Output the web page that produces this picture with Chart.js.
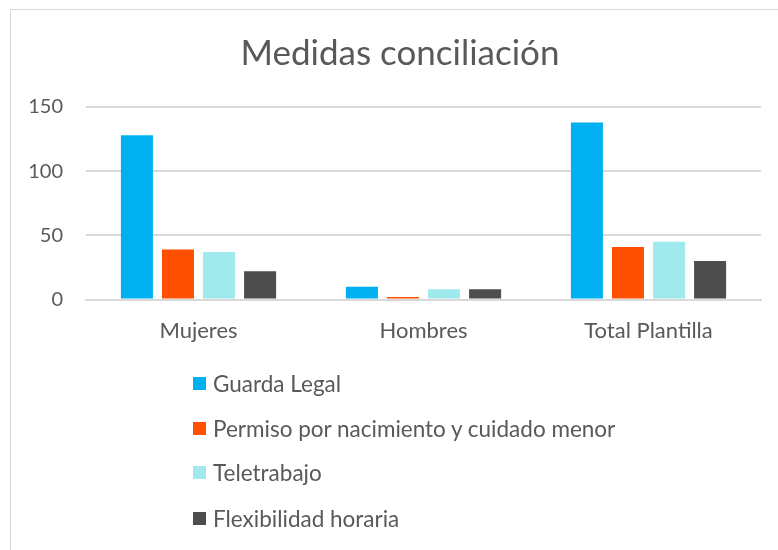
<!DOCTYPE html>
<html>
<head>
<meta charset="utf-8">
<script src="https://cdn.jsdelivr.net/npm/chart.js@4/dist/chart.umd.min.js"></script>
<style>
  html, body { margin: 0; padding: 0; background: #fff; }
  #wrap { position: relative; width: 778px; height: 550px; overflow: hidden; }
  #frame { position: absolute; left: 10px; top: 9px; width: 800px; height: 600px; border: 1px solid #d9d9d9; box-sizing: border-box; }
  canvas { position: absolute; left: 0; top: 0; }
  #legend { position: absolute; left: 193px; top: 0; font-family: Lato, sans-serif; font-size: 22.5px; color: #595959; }
  .item { position: absolute; left: 0; white-space: nowrap; display: flex; align-items: center; height: 26px; }
  .box { width: 13px; height: 13px; margin-right: 7px; }
</style>
</head>
<body>
<div id="wrap">
  <div id="frame"></div>
  <canvas id="c" width="778" height="550"></canvas>
  <div id="legend"></div>
</div>
<script>
const categories = ["Mujeres", "Hombres", "Total Plantilla"];
const seriesNames = ["Guarda Legal", "Permiso por nacimiento y cuidado menor", "Teletrabajo", "Flexibilidad horaria"];
const guardaLegal = [128, 10, 138];
const permisoNacimiento = [39, 2, 41];
const teletrabajo = [37, 8, 45];
const flexibilidadHoraria = [22, 8, 30];
const yTicks = [0, 50, 100, 150];
const colors = ["#00B0F0", "#FF4F00", "#A0EAEE", "#4D4D4D"];

const seriesValues = [guardaLegal, permisoNacimiento, teletrabajo, flexibilidadHoraria];
const textColor = "#595959";
const fontFamily = "Lato, sans-serif";

const titleShift = {
  id: "titleShift",
  afterLayout(chart) {
    if (chart.titleBlock) { chart.titleBlock.left = 39; }
  }
};

const chart = new Chart(document.getElementById("c"), {
  type: "bar",
  data: {
    labels: categories,
    datasets: seriesNames.map((n, i) => ({
      label: n,
      data: seriesValues[i],
      backgroundColor: colors[i],
      borderWidth: 0,
      barPercentage: 0.78,
      categoryPercentage: 0.73
    }))
  },
  options: {
    responsive: false,
    animation: false,
    layout: { padding: { left: 24, right: 17, top: 9, bottom: 188 } },
    plugins: {
      legend: { display: false },
      tooltip: { enabled: false },
      title: {
        display: true,
        text: "Medidas conciliación",
        color: textColor,
        font: { family: fontFamily, size: 35, weight: "normal" },
        padding: { top: 24, bottom: 32 }
      }
    },
    scales: {
      x: {
        grid: { display: false, drawTicks: false },
        border: { display: true, color: "#d9d9d9", width: 2 },
        ticks: { color: textColor, font: { family: fontFamily, size: 22 }, padding: 18 }
      },
      y: {
        min: 0,
        max: 150,
        afterFit: (s) => { s.width = 62; },
        afterBuildTicks: (s) => { s.ticks = yTicks.map(v => ({ value: v })); },
        grid: { color: "#d9d9d9", lineWidth: 2, drawTicks: false },
        border: { display: false },
        ticks: { color: textColor, font: { family: fontFamily, size: 20 }, padding: 23 }
      }
    }
  },
  plugins: [titleShift]
});

const legend = document.getElementById("legend");
const legendY = [383, 428, 472, 518];
seriesNames.forEach((n, i) => {
  const it = document.createElement("div");
  it.className = "item";
  it.style.top = (legendY[i] - 13) + "px";
  const b = document.createElement("span");
  b.className = "box";
  b.style.background = colors[i];
  const t = document.createElement("span");
  t.textContent = n;
  it.appendChild(b); it.appendChild(t);
  legend.appendChild(it);
});
</script>
</body>
</html>
